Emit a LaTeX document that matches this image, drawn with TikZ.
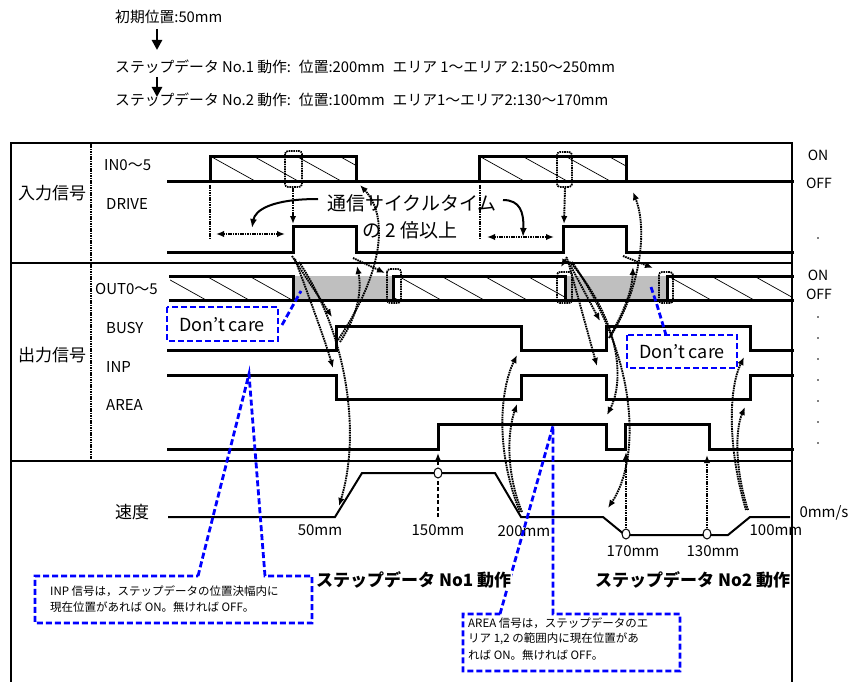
\documentclass[tikz,border=0pt]{standalone}
\usepackage{fontspec}
\setmainfont{Noto Sans CJK JP}
\usetikzlibrary{arrows.meta}
\definecolor{grayband}{RGB}{191,191,191}
\begin{document}
\begin{tikzpicture}[x=1pt,y=-1pt,
  sig/.style={line width=3pt,line join=miter,line cap=rect},
  frm/.style={line width=1.8pt},
  divl/.style={line width=1.4pt},
  spd/.style={line width=2pt,line join=miter},
  hatchl/.style={line width=0.7pt},
  dotarr/.style={dash pattern=on 1.6pt off 0.8pt,line width=1.9pt,-{Latex[length=8pt,width=6.5pt]}},
  dotdbl/.style={dash pattern=on 1.6pt off 0.8pt,line width=1.9pt,{Latex[length=8pt,width=6.5pt]}-{Latex[length=8pt,width=6.5pt]}},
  dotbox/.style={dash pattern=on 1.6pt off 0.8pt,line width=1.7pt,rounded corners=3pt},
  dotv/.style={dash pattern=on 1.6pt off 0.8pt,line width=1.7pt},
  bluedash/.style={draw=blue,line width=2.8pt,dash pattern=on 6pt off 3pt},
  lbl/.style={inner sep=0pt,font=\fontsize{15}{17}\selectfont},
  grp/.style={inner sep=0pt,font=\fontsize{17}{19}\selectfont},
  onoff/.style={inner sep=0pt,font=\fontsize{14}{16}\selectfont},
  mmlbl/.style={inner sep=0pt,font=\fontsize{15}{17}\selectfont},
  hdr/.style={inner sep=0pt,anchor=west,font=\fontsize{14.8}{17}\selectfont},
  notetxt/.style={inner sep=0pt,anchor=west,font=\fontsize{11.5}{14}\selectfont},
  bigt/.style={inner sep=1pt,anchor=west,fill=white,font=\bfseries\fontsize{17}{20}\selectfont},
  posmark/.style={draw=black,fill=white,line width=1pt},
  hdrarr/.style={line width=2.8pt,-{Triangle[length=10pt,width=10pt]}}
]
\useasboundingbox (0,0) rectangle (856,682);

% ---------- header ----------
\node[hdr] (h1) at (115,17) {初期位置:50mm};
\node[hdr] (h2) at (115,67) {ステップデータ No.1 動作:\hspace{8pt}位置:200mm\hspace{8pt}エリア 1～エリア 2:150～250mm};
\node[hdr] (h3) at (115,100) {ステップデータ No.2 動作:\hspace{8pt}位置:100mm\hspace{8pt}エリア1～エリア2:130～170mm};
\coordinate (a1s) at (157,29); \coordinate (a1e) at (157,50);
\coordinate (a2s) at (157,77); \coordinate (a2e) at (157,97);
\draw[hdrarr] (a1s) -- (a1e);
\draw[hdrarr] (a2s) -- (a2e);

% ---------- frame ----------
\draw[frm] (11,682) -- (11,143) -- (792,143) -- (792,682);
\draw[divl] (11,263) -- (792,263);
\draw[divl] (11,461) -- (792,461);
\draw[dotv] (91,144) -- (91,459);

\node[grp] (gin) at (52,193) {入力信号};
\node[grp] (gout) at (52,355) {出力信号};
\node[grp] (gspd) at (132,512) {速度};

\node[lbl,anchor=west] (lin) at (104,165) {IN0～5};
\node[lbl,anchor=west] (ldr) at (106,204) {DRIVE};
\node[lbl,anchor=west] (lout) at (95,289) {OUT0～5};
\node[lbl,anchor=west] (lbusy) at (106,328) {BUSY};
\node[lbl,anchor=west] (linp) at (106,367) {INP};
\node[lbl,anchor=west] (larea) at (106,405) {AREA};

\node[onoff] (on1) at (818,155) {ON};
\node[onoff] (off1) at (819,183) {OFF};
\node[onoff] (on2) at (818,275) {ON};
\node[onoff] (off2) at (819,294) {OFF};
\foreach \yy in {238,317,338,359,380,401,422,443} \fill (818,\yy) circle (0.9pt);

% ---------- hatching & gray ----------
\begin{scope}
  \clip (210,156) rectangle (356,181);
  \foreach \xx in {167,210,...,400} \draw[hatchl] (\xx,156) -- ++(45,25);
\end{scope}
\begin{scope}
  \clip (479,156) rectangle (626,181);
  \foreach \xx in {436,479,...,660} \draw[hatchl] (\xx,156) -- ++(45,25);
\end{scope}
\begin{scope}
  \clip (170,276) rectangle (293,300);
  \foreach \xx in {120,163,...,300} \draw[hatchl] (\xx,276) -- ++(43,24);
\end{scope}
\begin{scope}
  \clip (393,276) rectangle (565,300);
  \foreach \xx in {355,398,...,580} \draw[hatchl] (\xx,276) -- ++(43,24);
\end{scope}
\begin{scope}
  \clip (667,276) rectangle (792,300);
  \foreach \xx in {625,668,...,800} \draw[hatchl] (\xx,276) -- ++(43,24);
\end{scope}
\fill[grayband] (293,276) rectangle (393,299);
\fill[grayband] (565,276) rectangle (667,299);

% ---------- signals ----------
\draw[sig] (168,181) -- (792,181);
\draw[sig] (210,181) -- (210,156) -- (356,156) -- (356,181);
\draw[sig] (479,181) -- (479,156) -- (626,156) -- (626,181);
\draw[sig] (168,252) -- (293,252) -- (293,226) -- (356,226) -- (356,252) -- (563,252) -- (563,226) -- (626,226) -- (626,252) -- (792,252);
\draw[sig] (170,300) -- (792,300);
\draw[sig] (170,276) -- (293,276) -- (293,300);
\draw[sig] (393,300) -- (393,276) -- (565,276) -- (565,300);
\draw[sig] (667,300) -- (667,276) -- (792,276);
\draw[sig] (168,350) -- (336,350) -- (336,326) -- (521,326) -- (521,350) -- (606,350) -- (606,326) -- (750,326) -- (750,350) -- (792,350);
\draw[sig] (168,375) -- (336,375) -- (336,399) -- (521,399) -- (521,375) -- (606,375) -- (606,399) -- (750,399) -- (750,375) -- (792,375);
\draw[sig] (168,449) -- (438,449) -- (438,424) -- (606,424) -- (606,449) -- (625,449) -- (625,424) -- (709,424) -- (709,449) -- (792,449);
\draw[spd] (168,517) -- (335,517) -- (362,473) -- (495,473) -- (521,517) -- (603,517) -- (625,535) -- (728,535) -- (750,517) -- (790,517);

% ---------- timing marks ----------
\draw[dotv] (210,185) -- (210,239);
\draw[dotv] (480,185) -- (480,240);
\draw[dotdbl] (216,234) -- (285,234);
\draw[dotdbl] (487,237) -- (554,237);
\draw[dotbox] (285,151) rectangle (302,187);
\draw[dotbox] (557,152) rectangle (572,187);
\draw[dotbox] (387,269) rectangle (401,303);
\draw[dotbox] (557,272) rectangle (572,303);
\draw[dotbox] (659,272) rectangle (673,303);

\node[inner sep=0pt,anchor=west,font=\fontsize{19}{21}\selectfont] (tc1) at (327,203) {通信サイクルタイム};
\node[inner sep=0pt,anchor=west,font=\fontsize{19}{21}\selectfont] (tc2) at (362,230) {の 2 倍以上};
\draw[line width=2pt,-{Latex[length=9pt,width=7pt]}] (318,199) .. controls (272,199) and (255,210) .. (252,228);
\draw[line width=2pt,-{Latex[length=9pt,width=7pt]}] (503,200) .. controls (520,200) and (524,212) .. (523,237);

% ---------- causal arrows ----------
\draw[dotarr] (293,188) -- (293,224);
\draw[dotarr] (292,256) -- (332,317);
\draw[dotarr] (295,259) .. controls (310,300) and (325,340) .. (333,368);
\draw[dotarr] (299,262) .. controls (345,330) and (362,430) .. (339,506);
\draw[dotarr] (353,258) -- (385,273);
\draw[dotarr] (340,342) .. controls (358,315) and (362,290) .. (357,266);
\draw[dotarr] (338,340) .. controls (385,270) and (388,215) .. (360,185);
\draw[dotarr] (520,512) .. controls (495,450) and (500,390) .. (517,355);
\draw[dotarr] (522,512) .. controls (505,470) and (508,430) .. (517,404);
\draw[dotarr] (565,188) -- (564,224);
\draw[dotarr] (567,257) -- (561,267);
\draw[dotarr] (567,259) -- (600,321);
\draw[dotarr] (568,261) -- (597,366);
\draw[dotarr] (570,262) .. controls (620,320) and (625,380) .. (607,415);
\draw[dotarr] (572,262) .. controls (640,360) and (640,460) .. (608,508);
\draw[dotarr] (609,338) .. controls (625,310) and (632,290) .. (633,267);
\draw[dotarr] (623,256) -- (653,268);
\draw[dotarr] (610,337) .. controls (640,290) and (648,230) .. (633,192);
\draw[dotarr] (746,510) .. controls (728,450) and (728,390) .. (744,357);
\draw[dotarr] (748,510) .. controls (735,470) and (735,430) .. (745,407);
\draw[dash pattern=on 4pt off 2.5pt,line width=1.8pt,-{Latex[length=8pt,width=6.5pt]}] (438,517) -- (438,453);
\draw[dotarr] (626,533) -- (626,452);
\draw[dotarr] (707,533) -- (707,455);
\draw[posmark] (438,473) ellipse (4pt and 5pt);
\draw[posmark] (626,534) ellipse (4pt and 5pt);
\draw[posmark] (707,534) ellipse (4pt and 5pt);

% ---------- speed labels ----------
\node[mmlbl] (m50) at (320,530) {50mm};
\node[mmlbl] (m150) at (438,530) {150mm};
\node[mmlbl] (m200) at (524,531) {200mm};
\node[mmlbl] (m170) at (633,551) {170mm};
\node[mmlbl] (m130) at (713,551) {130mm};
\node[mmlbl] (m100) at (776,530) {100mm};
\node[mmlbl] (m0) at (824,513) {0mm/s};

% ---------- blue callouts ----------
\draw[bluedash] (167,307) rectangle (278,341);
\node[inner sep=0pt,font=\fontsize{18}{20}\selectfont] (dc1) at (222,325) {Don’t care};
\draw[bluedash] (282,325) -- (301,291);
\draw[bluedash] (627,335) rectangle (737,368);
\node[inner sep=0pt,font=\fontsize{18}{20}\selectfont] (dc2) at (682,352) {Don’t care};
\draw[bluedash] (651,287) -- (657,305) -- (666,335);

\draw[bluedash] (198,576) -- (249,374) -- (265,576) -- (312,576) -- (312,623) -- (35,623) -- (35,576) -- cycle;
\node[notetxt] (n1a) at (50,591) {INP 信号は，ステップデータの位置決幅内に};
\node[notetxt] (n1b) at (50,607) {現在位置があれば ON。無ければ OFF。};

\draw[bluedash] (500,614) -- (553,426) -- (553,614) -- (680,614) -- (680,671) -- (463,671) -- (463,614) -- cycle;
\node[notetxt] (n2a) at (468,623) {AREA 信号は，ステップデータのエ};
\node[notetxt] (n2b) at (468,639) {リア 1,2 の範囲内に現在位置があ};
\node[notetxt] (n2c) at (468,655) {れば ON。無ければ OFF。};

\node[bigt] (s1) at (315,580) {ステップデータ No1 動作};
\node[bigt] (s2) at (594,580) {ステップデータ No2 動作};
\end{tikzpicture}
\end{document}
